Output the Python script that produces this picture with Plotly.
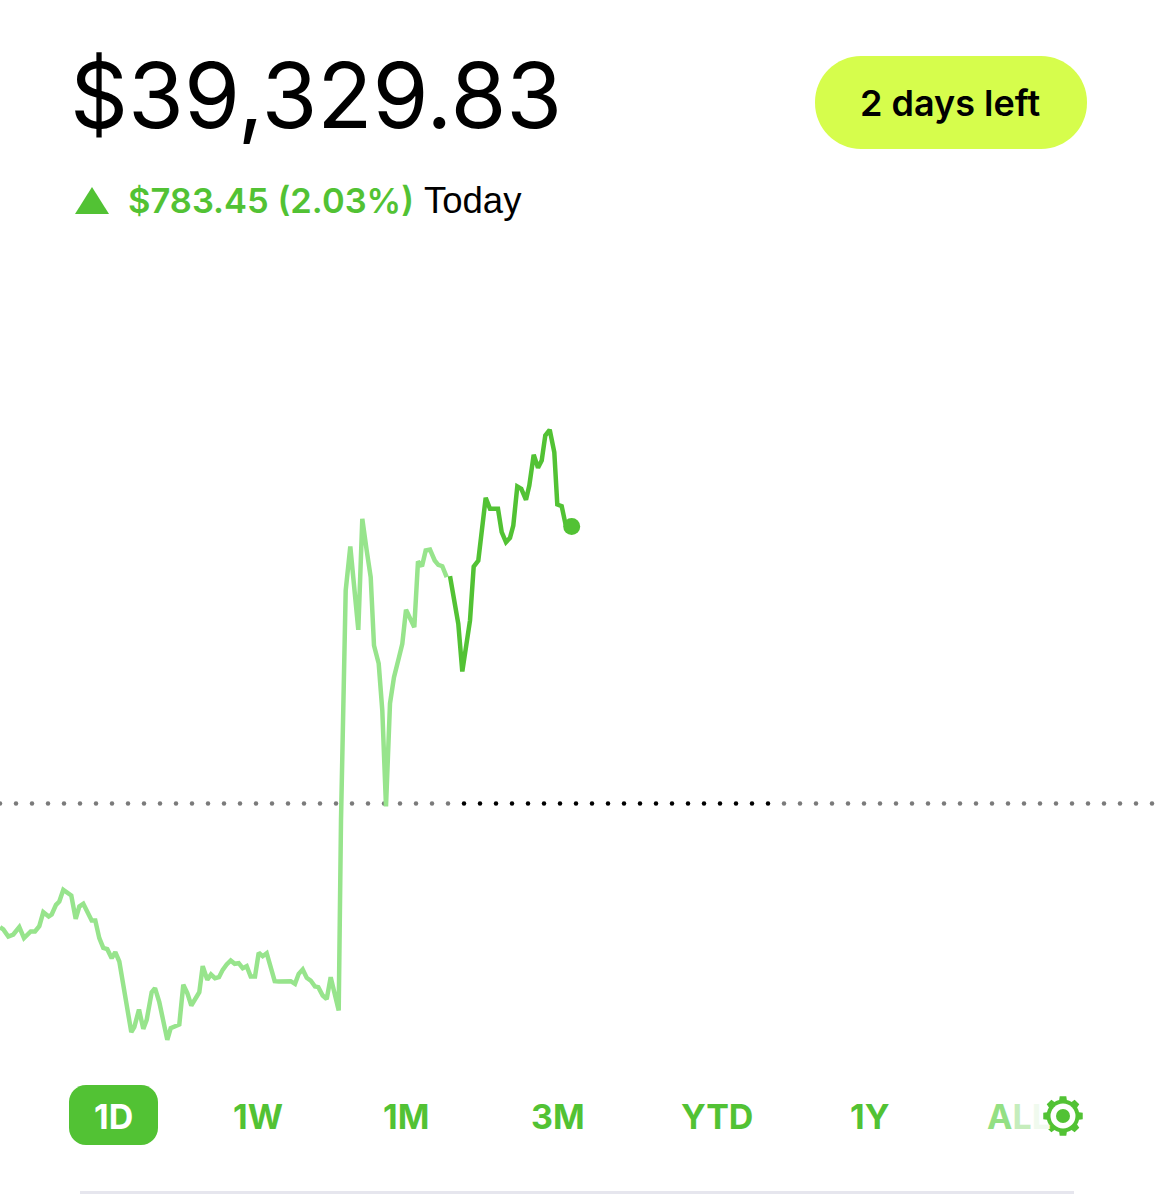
import numpy as np
import plotly.graph_objects as go

W, H = 1155, 1200
GREEN = "#52c234"
LIGHT_GREEN = "#97e48c"

# session position (left to right) and change from previous close, in dollars
earlier_x = [0, 3.3, 8.3, 13.3, 19.3, 24, 30.7, 35, 39.3, 43.3, 48.7, 51.7, 56, 59.3, 63.3, 66.7, 71.3,
             75.7, 79.3, 83.3, 87.3, 91.7, 95.3, 99.3, 103.3, 107.3, 111.7, 115.3, 119.3, 122.7, 126.7,
             131.3, 134.3, 139, 143.3, 146.7, 151.7, 155, 159.3, 163.3, 167.3, 170.7, 175, 179.3, 183.3,
             187.3, 191.3, 199.3, 202.7, 207.3, 211, 215, 219, 222.7, 226.7, 230.7, 234.7, 238.7, 242.7,
             246.7, 250.7, 255, 258.7, 262.7, 266.7, 270.7, 274.7, 278.7, 286.7, 290.7, 295, 298.7, 302.7,
             306.7, 310.7, 315, 318.3, 322.7, 326.7, 330.7, 338.7,
             341, 345.7, 350.3, 358.3, 362.3, 366.7, 370.7, 374, 378.7, 382.3, 386, 390, 394, 399, 402.3,
             406, 414.3, 418, 422, 425.7, 430, 434.7, 438.3, 442.3, 446.7]
earlier_change = [-349.7, -356.3, -376.1, -370.5, -349.7, -380.8, -362.0, -362.0, -346.9, -307.3, -319.6,
                  -313.9, -286.6, -277.2, -244.2, -252.6, -260.2, -326.2, -291.3, -283.8, -307.3, -330.9,
                  -330.9, -380.8, -408.2, -411.9, -437.4, -420.4, -446.8, -500.6, -566.6, -646.7, -632.6,
                  -582.6, -637.3, -611.8, -533.6, -522.3, -561.8, -623.1, -668.4, -635.4, -629.7, -625.0,
                  -512.8, -536.4, -571.3, -533.6, -460.0, -498.7, -483.6, -494.0, -491.1, -470.4, -455.3,
                  -444.0, -453.4, -451.6, -465.7, -460.0, -489.3, -489.3, -422.3, -431.8, -423.3, -462.9,
                  -502.5, -503.4, -502.5, -502.5, -510.0, -481.7, -469.5, -493.0, -500.6, -517.5, -519.4,
                  -543.0, -553.4, -491.1, -585.4,
                  -48.1, 602.4, 726.8, 491.2, 805.1, 715.5, 640.0, 446.8, 395.9, 263.0, -8.5, 282.8, 357.2,
                  413.7, 451.6, 547.8, 498.6, 684.4, 671.1, 715.5, 718.3, 687.2, 675.0, 671.1, 640.0]
today_x = [450, 458.3, 462.3, 470, 473.7, 478.3, 485.7, 490, 498, 501.7, 506, 510, 513.3, 517.3, 521.3,
           526, 529.3, 533.7, 538, 541.7, 545.3, 549.7, 554.3, 557.3, 561.7, 565.5, 571.7]
today_change = [642.8, 508.2, 373.3, 517.5, 670.2, 687.2, 864.5, 833.4, 833.4, 767.2, 739.0, 751.4, 786.2,
                896.5, 890.0, 858.9, 899.3, 986.1, 949.4, 970.0, 1040.7, 1056.8, 993.5, 845.6, 840.8,
                790.0, 783.45]

price = "$39,329.83"
gain = "$783.45 (2.03%)"
periods = ["1W", "1M", "3M", "YTD", "1Y"]
period_x = [258, 406, 558, 717, 870]


def px(x):
    return x / W


def py(y):
    return 1 - y / H


def pill(x0, y0, x1, y1, r):
    k = 0.45 * r
    return (f"M {px(x0 + r)} {py(y0)} L {px(x1 - r)} {py(y0)} "
            f"C {px(x1 - k)} {py(y0)} {px(x1)} {py(y0 + k)} {px(x1)} {py(y0 + r)} "
            f"L {px(x1)} {py(y1 - r)} C {px(x1)} {py(y1 - k)} {px(x1 - k)} {py(y1)} {px(x1 - r)} {py(y1)} "
            f"L {px(x0 + r)} {py(y1)} C {px(x0 + k)} {py(y1)} {px(x0)} {py(y1 - k)} {px(x0)} {py(y1 - r)} "
            f"L {px(x0)} {py(y0 + r)} C {px(x0)} {py(y0 + k)} {px(x0 + k)} {py(y0)} {px(x0 + r)} {py(y0)} Z")


def label(x, y, text, size, color, font="Inter", weight=600, anchor="center"):
    return dict(x=px(x), y=py(y), xref="paper", yref="paper", text=text, showarrow=False, xanchor=anchor,
                yanchor="middle", borderpad=0, font=dict(family=font, size=size, color=color, weight=weight))


def gear(cx, cy, r_out, r_in, teeth=8):
    pts = []
    for i in range(teeth):
        a = 2 * np.pi * i / teeth - np.pi / 2
        w = np.pi / teeth
        for da, r in [(-w, r_in), (-0.6 * w, r_in), (-0.42 * w, r_out), (0.42 * w, r_out), (0.6 * w, r_in)]:
            pts.append((cx + r * np.cos(a + da), cy + r * np.sin(a + da)))
    return "M " + " L ".join(f"{px(x)} {py(y)}" for x, y in pts) + " Z"


def circle(cx, cy, r, color):
    return dict(type="circle", xref="paper", yref="paper", x0=px(cx - r), x1=px(cx + r), y0=py(cy + r),
                y1=py(cy - r), fillcolor=color, line_width=0)


def path(d, color):
    return dict(type="path", xref="paper", yref="paper", path=d, fillcolor=color, line_width=0)


fig = go.Figure()

# previous close dots, darker while they sit over the session hours
dots = np.arange(0, W + 16, 16)
dark = (dots >= 464) & (dots <= 768)
fig.add_trace(go.Scatter(x=dots[~dark], y=np.zeros((~dark).sum()), mode="markers",
                         marker=dict(size=4.5, color="#7a7a7a")))
fig.add_trace(go.Scatter(x=dots[dark], y=np.zeros(dark.sum()), mode="markers",
                         marker=dict(size=4.5, color="#000000")))

fig.add_trace(go.Scatter(x=earlier_x, y=earlier_change, mode="lines", line=dict(color=LIGHT_GREEN, width=4.5)))
fig.add_trace(go.Scatter(x=today_x, y=today_change, mode="lines", line=dict(color=GREEN, width=4.5)))
fig.add_trace(go.Scatter(x=today_x[-1:], y=today_change[-1:], mode="markers",
                         marker=dict(size=17, color=GREEN)))

shapes = [
    path(pill(815, 56, 1087, 149, 46), "#d6fd4c"),
    path(f"M {px(75)} {py(214)} L {px(109)} {py(214)} L {px(92)} {py(187)} Z", GREEN),
    path(pill(69, 1085, 158, 1145, 17), GREEN),
    path(gear(1063, 1116, 20, 16.5), GREEN),
    circle(1063, 1116, 12.5, "#ffffff"),
    circle(1063, 1116, 7, GREEN),
    dict(type="line", xref="paper", yref="paper", x0=px(80), x1=px(1074), y0=py(1192.5), y1=py(1192.5),
         line=dict(color="#e6e6ee", width=3)),
]

annotations = [
    label(69, 95, price, 90.5, "#000000", font="Inter", weight=400, anchor="left"),
    label(950, 103, "2 days left", 36, "#000000"),
    label(127, 201, gain, 34.5, GREEN, anchor="left"),
    label(423, 201, "Today", 36.5, "#000000", font="Liberation Sans", weight=400, anchor="left"),
    label(113, 1116, "1D", 34, "#ffffff", weight=700),
    label(1019, 1116, '<span style="color:#93e083">A</span><span style="color:#c5edbc">L</span>'
                      '<span style="color:#f0faee">L</span>', 34, GREEN, weight=700),
]
for name, x in zip(periods, period_x):
    annotations.append(label(x, 1116, name, 34, GREEN, weight=700))

fig.update_layout(
    width=W, height=H, margin=dict(l=0, r=0, t=0, b=0), autosize=False,
    paper_bgcolor="#ffffff", plot_bgcolor="rgba(0,0,0,0)", showlegend=False,
    xaxis=dict(range=[0, W], visible=False, fixedrange=True),
    yaxis=dict(range=[-1121.3, 2272.3], visible=False, fixedrange=True),
    shapes=shapes, annotations=annotations,
)

fig.write_html("out.html", config={"displayModeBar": False},
               post_script="document.body.style.margin='0';")
